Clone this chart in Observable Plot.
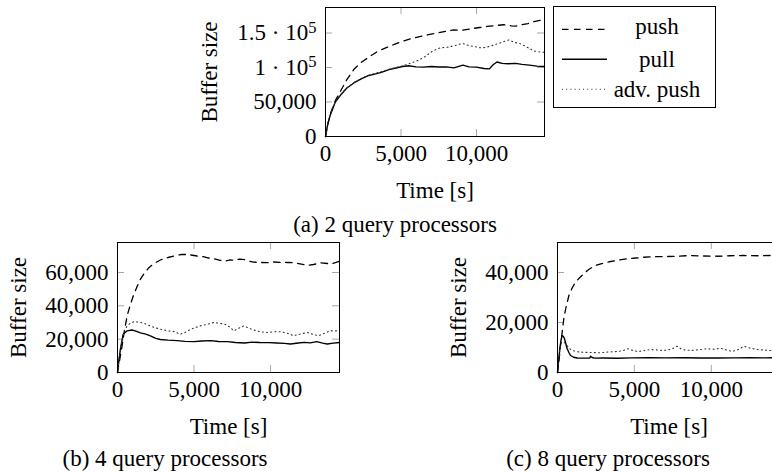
<!DOCTYPE html>
<html><head><meta charset="utf-8">
<script src="https://cdn.jsdelivr.net/npm/d3@7"></script>
<script src="https://cdn.jsdelivr.net/npm/@observablehq/plot@0.6"></script>
<style>
html,body{margin:0;padding:0;background:#fff;}
#root{position:relative;width:772px;height:473px;overflow:hidden;font-family:'Liberation Serif',serif;color:#000;background:#fff;}
#root svg text, #root svg tspan{font-family:'Liberation Serif',serif !important;}
.cap{position:absolute;font-family:'Liberation Serif',serif;font-size:23px;line-height:23px;white-space:nowrap;transform:translateX(-50%);}
</style></head><body><div id="root"></div>
<script>
// ---------- data (time [s], buffer size) ----------
const xTicks = [0, 5000, 10000];
const xMax = 14500;

// (a) 2 query processors
const aPush = [[0,0],[150,18000],[330,33000],[650,52000],[1000,66000],[1400,82000],[1900,98000],[2400,108000],[3000,117000],[3500,124000],[4100,129500],[4600,134000],[5100,138000],[5700,142000],[6300,145000],[6900,148000],[7400,150000],[8000,152500],[8500,154500],[9000,154000],[9600,156000],[10200,158000],[10700,159500],[11300,161000],[11800,162000],[12300,160500],[12600,160000],[13000,162000],[13400,163500],[13800,166500],[14200,168500],[14500,167000]];
const aPull = [[0,0],[150,18000],[330,32000],[650,50000],[1000,60000],[1400,70000],[1900,78000],[2400,84000],[2800,88000],[3200,90000],[3700,93000],[4200,97000],[4600,99000],[5100,101500],[5500,102500],[6000,101000],[6500,100500],[7000,101500],[7500,100800],[8000,101000],[8500,99500],[9100,103500],[9500,101000],[10000,100500],[10500,98500],[10850,98000],[11100,104000],[11350,108000],[11700,106000],[12100,105500],[12600,106000],[13000,104500],[13500,103500],[14000,102000],[14500,101500]];
const aAdv = [[0,0],[150,18000],[330,33000],[650,51000],[1000,61000],[1400,70500],[1900,78500],[2400,84500],[2800,88500],[3200,91000],[3700,94000],[4200,97500],[4600,99500],[5100,102500],[5600,106000],[6100,110000],[6600,116000],[7100,124000],[7600,128500],[8100,129500],[8600,132000],[9050,135000],[9400,132500],[9800,130500],[10300,128500],[10600,129000],[11000,131500],[11400,134500],[11800,137500],[12150,140000],[12500,136500],[12900,134500],[13300,130000],[13800,124000],[14200,122500],[14500,122000]];
const aYMax = 187000;
const aYTicks = [0, 50000, 100000, 150000];
const aYTickLabels = ["0", "50,000", "1 · 10^5", "1.5 · 10^5"];

// (b) 4 query processors
const bPush = [[0,0],[150,8000],[300,16000],[450,25000],[630,34000],[850,41000],[1070,47000],[1300,52000],[1500,56000],[1750,59500],[2050,62900],[2400,65500],[2800,67500],[3300,69000],[3800,70200],[4200,70800],[4600,70800],[5200,69900],[5600,69500],[5900,68800],[6300,68300],[6700,67300],[7050,66800],[7300,67500],[7600,67400],[8000,68000],[8300,67700],[8600,66800],[8900,66200],[9400,66000],[9800,65900],[10200,66300],[10700,66100],[11100,66000],[11500,65900],[12000,65000],[12400,64300],[12800,64800],[13300,65800],[13700,65400],[14000,65200],[14500,66800]];
const bPull = [[0,0],[100,8000],[200,14500],[370,23000],[630,25000],[950,25500],[1200,24800],[1500,23800],[1850,23000],[2150,22000],[2500,20500],[2800,19800],[3300,19400],[3900,19100],[4400,18700],[5000,18500],[5500,18900],[6100,19100],[6600,18600],[7200,18500],[7700,18000],[8300,17700],[8800,18200],[9300,18000],[9900,17900],[10400,17700],[10900,17500],[11300,17100],[11800,17700],[12200,18100],[12600,17800],[13000,18500],[13400,17600],[13700,17100],[14100,17600],[14500,18000]];
const bAdv = [[0,0],[150,11000],[300,19500],[450,25000],[630,28000],[900,30000],[1100,30500],[1400,30200],[1700,29600],[2000,28500],[2400,27000],[2800,26000],[3300,25000],[3700,24500],[4100,23000],[4400,24000],[4800,26000],[5400,28000],[5900,29000],[6300,30000],[6700,29500],[7000,29000],[7300,27500],[7600,25000],[7900,26500],[8250,28000],[8600,26500],[8900,25500],[9300,24500],[9800,24000],[10300,24500],[10700,24400],[11100,23500],[11500,22100],[11900,23000],[12400,24000],[12800,22800],[13150,22100],[13500,23500],[13900,25000],[14500,25000]];
const bYMax = 78000;
const bYTicks = [0, 20000, 40000, 60000];

// (c) 8 query processors
const cPush = [[0,0],[100,5000],[195,10800],[300,16000],[410,21500],[550,26000],[740,30800],[950,33800],[1170,36100],[1450,38000],[1710,39500],[2050,41300],[2470,42800],[2950,43700],[3450,44400],[4000,45000],[4530,45500],[5100,45800],[5600,46100],[6300,46300],[7100,46400],[7900,46500],[8600,46800],[9400,46600],[10400,46500],[11200,46700],[12100,46800],[13000,46700],[13800,46800],[14500,46700]];
const cPull = [[0,0],[80,5000],[150,9500],[230,13000],[300,14800],[380,14500],[455,13500],[540,11500],[630,9500],[740,8000],[850,6800],[1050,6100],[1280,5800],[1700,5750],[2100,5800],[2150,6500],[2250,6000],[2400,5750],[3000,5800],[3900,5700],[4800,5850],[6000,5900],[7000,5850],[8200,5900],[9300,5800],[10400,5800],[11500,5850],[12500,5900],[13500,5850],[14500,5900]];
const cAdv = [[0,0],[150,9000],[250,12000],[400,12200],[550,11500],[650,10500],[800,9500],[950,8800],[1300,8300],[1700,8100],[2200,8000],[2800,7900],[3300,8200],[3900,8400],[4300,8800],[4550,9500],[4900,8800],[5200,8400],[5700,8800],[6050,9200],[6500,9000],[6900,8800],[7400,9300],[7780,10500],[8100,9200],[8650,8800],[9200,9100],[9730,9500],[10200,9300],[10600,9700],[11000,9000],[11350,8400],[11800,9300],[12110,10500],[12500,9800],[12980,9200],[13400,9000],[13850,8800],[14500,9000]];
const cYMax = 52000;
const cYTicks = [0, 20000, 40000];

const seriesNames = ["push", "pull", "adv. push"];
const captions = ["(a) 2 query processors", "(b) 4 query processors", "(c) 8 query processors"];

// ---------- styles ----------
const FONT = "Liberation Serif";
const lineStyle = {
  "push": {stroke: "#000", strokeWidth: 1.3, strokeDasharray: "6.5,5.5"},
  "pull": {stroke: "#000", strokeWidth: 1.4},
  "adv. push": {stroke: "#333", strokeWidth: 1.1, strokeDasharray: "1,3.2"}
};
const tickColor = "#a8a8a8";
const root = document.getElementById("root");

function superscripts(svg) {
  svg.querySelectorAll("text").forEach(t => {
    const s = t.textContent;
    if (s.includes("^")) {
      const [base, exp] = s.split("^");
      while (t.firstChild) t.removeChild(t.firstChild);
      const ns = "http://www.w3.org/2000/svg";
      const t1 = document.createElementNS(ns, "tspan"); t1.textContent = base;
      const t2 = document.createElementNS(ns, "tspan"); t2.textContent = exp;
      t2.setAttribute("dy", "-0.45em"); t2.setAttribute("font-size", "0.72em");
      t.appendChild(t1); t.appendChild(t2);
    }
  });
}

function panel({data, yMax, yTicks, yFormat, left, top, width, height, ml, mr, mt, mb, yLabelOffset}) {
  const innerW = width - ml - mr, innerH = height - mt - mb, tk = 7;
  const txt = {fontFamily: FONT, fontSize: 23, fontVariant: "normal", fill: "#000"};
  const marks = [
    Plot.ruleX(xTicks, {x: d => d, stroke: tickColor, insetBottom: innerH - tk}),
    Plot.ruleX(xTicks, {x: d => d, stroke: tickColor, insetTop: innerH - tk}),
    Plot.ruleY(yTicks, {y: d => d, stroke: tickColor, insetRight: innerW - tk}),
    Plot.ruleY(yTicks, {y: d => d, stroke: tickColor, insetLeft: innerW - tk}),
    ...seriesNames.map((name, i) => Plot.line(data[i], {x: d => d[0], y: d => d[1], ...lineStyle[name]})),
    Plot.frame({stroke: "#000", strokeWidth: 1}),
    Plot.axisX({...txt, ticks: xTicks, tickSize: 0, tickPadding: 8.5, tickFormat: d3.format(","), label: "Time [s]", labelAnchor: "center", labelOffset: 61.5, labelArrow: false}),
    Plot.axisY({...txt, ticks: yTicks, tickSize: 0, tickPadding: 9, tickFormat: yFormat, label: "Buffer size", labelAnchor: "center", labelOffset: yLabelOffset, labelArrow: false})
  ];
  const svg = Plot.plot({
    width, height, marginLeft: ml, marginRight: mr, marginTop: mt, marginBottom: mb,
    x: {domain: [0, xMax]}, y: {domain: [0, yMax]},
    style: {fontFamily: FONT, fontSize: "23px", color: "#000", background: "transparent", position: "absolute", left: left + "px", top: top + "px", overflow: "visible", maxWidth: "none"},
    marks
  });
  superscripts(svg);
  root.appendChild(svg);
}

panel({data: [aPush, aPull, aAdv], yMax: aYMax, yTicks: aYTicks, yFormat: d => aYTickLabels[aYTicks.indexOf(d)],
  left: 190, top: 0, width: 358, height: 205, ml: 135, mr: 4, mt: 7, mb: 69, yLabelOffset: 125});
panel({data: [bPush, bPull, bAdv], yMax: bYMax, yTicks: bYTicks, yFormat: d3.format(","),
  left: 0, top: 236, width: 345, height: 204, ml: 117, mr: 6, mt: 6, mb: 68, yLabelOffset: 108});
panel({data: [cPush, cPull, cAdv], yMax: cYMax, yTicks: cYTicks, yFormat: d3.format(","),
  left: 440, top: 236, width: 345, height: 204, ml: 117, mr: 5, mt: 6, mb: 68, yLabelOffset: 108});

// captions
[[captions[0], 395, 232.5], [captions[1], 165, 466], [captions[2], 608, 466]].forEach(([t, cx, base]) => {
  const d = document.createElement("div");
  d.className = "cap"; d.textContent = t;
  d.style.left = cx + "px"; d.style.top = (base - 19.3) + "px";
  root.appendChild(d);
});

// legend
const lg = d3.select(root).append("svg")
  .attr("width", 164).attr("height", 103)
  .attr("font-family", FONT).attr("font-size", 23)
  .style("position", "absolute").style("left", "553px").style("top", "6px");
lg.append("rect").attr("x", 0.5).attr("y", 0.5).attr("width", 162).attr("height", 101)
  .attr("fill", "#fff").attr("stroke", "#000").attr("stroke-width", 1);
const legendBase = [28.3, 60.5, 90.7];
seriesNames.forEach((name, i) => {
  const ly = 23.3 + i * 30, st = lineStyle[name];
  lg.append("line").attr("x1", 9).attr("x2", 54).attr("y1", ly).attr("y2", ly)
    .attr("stroke", st.stroke).attr("stroke-width", st.strokeWidth)
    .attr("stroke-dasharray", st.strokeDasharray || null);
  lg.append("text").attr("x", 104).attr("y", legendBase[i]).attr("text-anchor", "middle")
    .attr("font-family", FONT).text(name);
});
</script></body></html>
